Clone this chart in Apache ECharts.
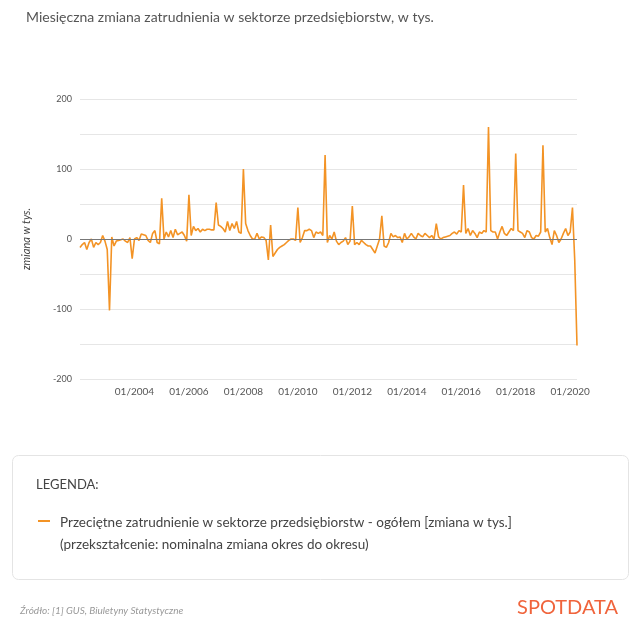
<!DOCTYPE html>
<html>
<head>
<meta charset="utf-8">
<script src="https://cdn.jsdelivr.net/npm/echarts@6/dist/echarts.min.js"></script>
<style>html,body{margin:0;background:#fff}#c{width:640px;height:629px}</style>
</head>
<body>
<div id="c"></div>
<script>
// monthly change, thousands, 2002-01 .. 2020-04
var values = {
    2002: [-12, -8, -5, -15, -5, 0, -12, -5, -8, -5, 5, -3],
    2003: [-15, -102, 3, -10, -3, -2, -1, 0, -3, -5, 2, -28],
    2004: [0, 2, -2, 7, 6, 5, -2, -5, 8, 12, -5, -7],
    2005: [58, 0, 10, 3, 12, 2, 14, 6, 8, 10, 5, -3],
    2006: [63, 5, 18, 12, 15, 10, 14, 12, 14, 14, 13, 13],
    2007: [52, 20, 18, 15, 10, 25, 12, 22, 15, 25, 10, 8],
    2008: [100, 22, 12, 5, 0, 0, 8, 0, 3, 2, -2, -30],
    2009: [20, -25, -20, -15, -12, -10, -8, -5, -2, 0, 0, -2],
    2010: [45, -5, 2, 12, 12, 14, 12, 2, 10, 8, 10, 5],
    2011: [120, -5, 5, 0, 10, -3, -8, -5, -3, 2, -8, -3],
    2012: [47, -8, -5, -8, -2, -5, -8, -10, -10, -15, -20, -10],
    2013: [0, 33, -10, -12, -5, 8, 3, 5, 2, 3, -5, 8],
    2014: [0, 3, 8, 3, 0, 8, 5, 3, 8, 5, 2, 5],
    2015: [0, 22, 3, 0, 2, 3, 4, 5, 8, 10, 7, 12],
    2016: [10, 77, 8, 15, 5, 12, 8, 2, 10, 8, 12, 10],
    2017: [160, 12, 10, 10, 0, 10, 18, 8, 5, 10, 15, 12],
    2018: [122, 12, 10, 8, 2, 12, 10, 2, 0, 5, 4, 10],
    2019: [134, 10, 15, 2, -8, 12, 5, -5, 0, 8, 15, 5],
    2020: [10, 45, -30, -152]
};
var cats = [], data = [];
Object.keys(values).forEach(function (y) {
    values[y].forEach(function (v, i) {
        cats.push((i < 9 ? '0' : '') + (i + 1) + '/' + y);
        data.push(v);
    });
});

var font = 'Lato, "Open Sans", sans-serif';
var chart = echarts.init(document.getElementById('c'));
chart.setOption({
    animation: false,
    textStyle: {fontFamily: font},
    grid: {left: 80, right: 63, top: 99, bottom: 250},
    xAxis: {
        type: 'category', data: cats, boundaryGap: false,
        axisLine: {show: false}, axisTick: {show: false},
        axisLabel: {
            color: '#555', fontSize: 10, margin: 8,
            interval: function (i, v) { return v.slice(0, 2) === '01' && +v.slice(3) % 2 === 0 && +v.slice(3) >= 2004; }
        }
    },
    yAxis: {
        type: 'value', min: -200, max: 200, interval: 50,
        name: 'zmiana w tys.', nameLocation: 'middle', nameGap: 48,
        nameTextStyle: {fontStyle: 'italic', color: '#444', fontSize: 11},
        axisLine: {show: false}, axisTick: {show: false},
        axisLabel: {color: '#555', fontSize: 9, formatter: function (v) { return v % 100 === 0 ? v : ''; }},
        splitLine: {lineStyle: {color: '#e6e6e6'}}
    },
    series: [{
        type: 'line', data: data, symbol: 'none',
        lineStyle: {color: '#f39325', width: 1.6},
        itemStyle: {color: '#f39325'},
        markLine: {silent: true, symbol: 'none', label: {show: false},
            lineStyle: {color: '#777', type: 'solid', width: 1}, data: [{yAxis: 0}]}
    }],
    graphic: [
        {type: 'text', left: 26, top: 10, style: {text: 'Miesięczna zmiana zatrudnienia w sektorze przedsiębiorstw, w tys.', fill: '#555', font: '14px ' + font}},
        {type: 'rect', left: 12, top: 455, shape: {width: 616, height: 124, r: 6}, style: {fill: '#fff', stroke: '#e4e4e4', lineWidth: 1}},
        {type: 'text', left: 36, top: 478, style: {text: 'LEGENDA:', fill: '#444', font: '13px ' + font}},
        {type: 'rect', left: 38, top: 520, shape: {width: 12, height: 2}, style: {fill: '#f39325'}},
        {type: 'text', left: 60, top: 512, style: {text: 'Przeciętne zatrudnienie w sektorze przedsiębiorstw - ogółem [zmiana w tys.]\n(przekształcenie: nominalna zmiana okres do okresu)', fill: '#444', font: '13.5px ' + font, lineHeight: 22}},
        {type: 'text', left: 20, top: 606, style: {text: 'Źródło: [1] GUS, Biuletyny Statystyczne', fill: '#999', font: 'italic 10px ' + font}},
        {type: 'text', right: 22, top: 598, style: {text: 'SPOTDATA', fill: '#f0643c', font: '20px ' + font}}
    ]
});
</script>
</body>
</html>
